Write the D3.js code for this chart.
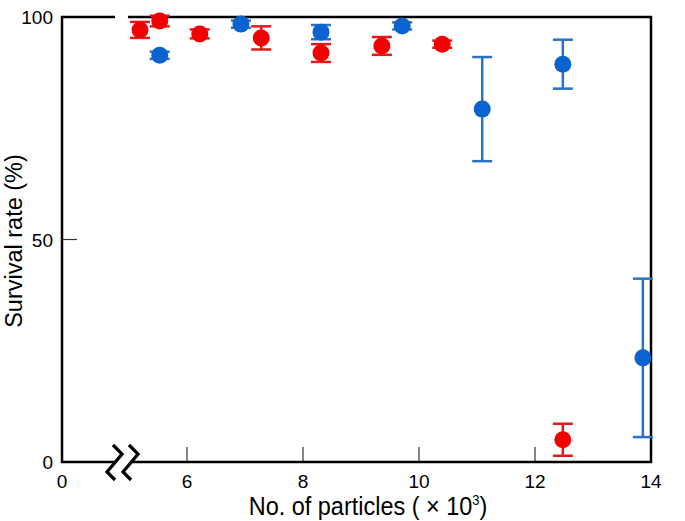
<!DOCTYPE html>
<html>
<head>
<meta charset="utf-8">
<script src="https://cdn.jsdelivr.net/npm/d3@7"></script>
<style>
  body { margin: 0; background: #fff; }
  svg { display: block; }
</style>
</head>
<body>
<svg id="chart" width="685" height="521"></svg>
<script>
//^^^^^^^^^^^^^^^^^^^^^^^^^^^^^^^^^^^^^^^^^^^^^^^^^^^^^^^^^^^^^^^^^^^^^^^^^^^^^^
// Data (x in 10^3 particles, y survival %)
//------------------------------------------------------------------------------
var redX   = [5.19, 5.53, 6.22, 7.28, 8.31, 9.36, 10.40, 12.48]
var redY   = [97.1, 99.1, 96.2, 95.3, 91.9, 93.5, 93.9, 5.0]
var redErr = [1.8, 1.2, 1.0, 2.6, 2.0, 2.0, 0.8, 3.6]

var blueX   = [5.53, 6.93, 8.31, 9.71, 11.09, 12.48, 13.86]
var blueY   = [91.4, 98.4, 96.6, 98.0, 79.3, 89.4, 23.4]
var blueErr = [0.8, 0.8, 1.6, 0.8, 11.7, 5.5, 17.8]

var xTicks = [6, 8, 10, 12, 14]
var yTicks = [0, 50, 100]

var xStart = 3.845   // value shown at the broken origin (labelled "0")
var xBreak = 4.88

var series = [
  {color: "#f20000", bar: "#e31b1b", x: redX, y: redY, e: redErr},
  {color: "#0b63cf", bar: "#2a72c4", x: blueX, y: blueY, e: blueErr}
]

//^^^^^^^^^^^^^^^^^^^^^^^^^^^^^^^^^^^^^^^^^^^^^^^^^^^^^^^^^^^^^^^^^^^^^^^^^^^^^^
// Scales
//------------------------------------------------------------------------------
var svg = d3.select("#chart")
var pLeft = 62, pRight = 651, pTop = 17, pBottom = 462

var x = d3.scaleLinear().domain([xStart, 14]).range([pLeft, pRight])
var y = d3.scaleLinear().domain([0, 100]).range([pBottom, pTop])

var sans = "'Liberation Sans', Arial, sans-serif"

//^^^^^^^^^^^^^^^^^^^^^^^^^^^^^^^^^^^^^^^^^^^^^^^^^^^^^^^^^^^^^^^^^^^^^^^^^^^^^^
// Inner ticks
//------------------------------------------------------------------------------
svg.append("g").selectAll("line.xt")
  .data(xTicks.filter(function(t){ return t < 14 }))
  .enter().append("line")
    .attr("x1", function(t){ return x(t) })
    .attr("x2", function(t){ return x(t) })
    .attr("y1", pBottom)
    .attr("y2", pBottom - 15)
    .attr("stroke", "#333")
    .attr("stroke-width", 1.2)

svg.append("line")
  .attr("x1", pLeft).attr("x2", pLeft + 15)
  .attr("y1", y(50)).attr("y2", y(50))
  .attr("stroke", "#333")
  .attr("stroke-width", 1.2)

//^^^^^^^^^^^^^^^^^^^^^^^^^^^^^^^^^^^^^^^^^^^^^^^^^^^^^^^^^^^^^^^^^^^^^^^^^^^^^^
// Frame with the break on the x side
//------------------------------------------------------------------------------
var bx = x(xBreak)
var frame = svg.append("g")
  .attr("fill", "none")
  .attr("stroke", "#000")
  .attr("stroke-width", 2.5)

frame.append("path")
  .attr("d", "M" + (bx - 7) + "," + pTop + "H" + pLeft + "V" + pBottom + "H" + (bx - 7))
frame.append("path")
  .attr("d", "M" + (bx + 6) + "," + pTop + "H" + pRight + "V" + pBottom + "H" + (bx + 10))

var zig = [[-9, -17], [0, -8], [-15, 10], [-7, 18]]
;[0, 16].forEach(function(off){
  frame.append("path")
    .attr("stroke-width", 3.2)
    .attr("d", d3.line()(zig.map(function(p){ return [bx + off + p[0], pBottom + p[1]] })))
})

//^^^^^^^^^^^^^^^^^^^^^^^^^^^^^^^^^^^^^^^^^^^^^^^^^^^^^^^^^^^^^^^^^^^^^^^^^^^^^^
// Tick labels
//------------------------------------------------------------------------------
svg.append("g").selectAll("text")
  .data([xStart].concat(xTicks))
  .enter().append("text")
    .attr("x", function(t){ return x(t) })
    .attr("y", pBottom + 26)
    .attr("text-anchor", "middle")
    .attr("font-family", sans)
    .attr("font-size", 19)
    .text(function(t){ return t == xStart ? "0" : t })

svg.append("g").selectAll("text")
  .data(yTicks)
  .enter().append("text")
    .attr("x", 53)
    .attr("y", function(t){ return y(t) + 7 })
    .attr("text-anchor", "end")
    .attr("font-family", sans)
    .attr("font-size", 19)
    .text(function(t){ return t })

//^^^^^^^^^^^^^^^^^^^^^^^^^^^^^^^^^^^^^^^^^^^^^^^^^^^^^^^^^^^^^^^^^^^^^^^^^^^^^^
// Axis titles (x title is a condensed face in the original)
//------------------------------------------------------------------------------
var xt = svg.append("text")
  .attr("transform", "translate(368,515) scale(0.92,1)")
  .attr("text-anchor", "middle")
  .attr("font-family", sans)
  .attr("font-size", 25.5)
xt.append("tspan").text("No. of particles ( \u00d7 10")
xt.append("tspan").attr("font-size", 14).attr("dy", -10).text("3")
xt.append("tspan").attr("dy", 10).text(")")

svg.append("text")
  .attr("transform", "translate(22,241) rotate(-90)")
  .attr("text-anchor", "middle")
  .attr("font-family", sans)
  .attr("font-size", 23.5)
  .text("Survival rate (%)")

//^^^^^^^^^^^^^^^^^^^^^^^^^^^^^^^^^^^^^^^^^^^^^^^^^^^^^^^^^^^^^^^^^^^^^^^^^^^^^^
// Error bars and points
//------------------------------------------------------------------------------
series.forEach(function(s){
  var pts = s.x.map(function(v, i){ return {x: v, y: s.y[i], e: s.e[i]} })
  var g = svg.append("g")

  var bars = g.selectAll("g.err")
    .data(pts)
    .enter().append("g")
      .attr("stroke", s.bar)
      .attr("stroke-width", 2.5)

  bars.append("line")
    .attr("x1", function(d){ return x(d.x) })
    .attr("x2", function(d){ return x(d.x) })
    .attr("y1", function(d){ return y(d.y + d.e) })
    .attr("y2", function(d){ return y(d.y - d.e) })

  ;[1, -1].forEach(function(sign){
    bars.append("line")
      .attr("x1", function(d){ return x(d.x) - 10 })
      .attr("x2", function(d){ return x(d.x) + 10 })
      .attr("y1", function(d){ return y(d.y + sign * d.e) })
      .attr("y2", function(d){ return y(d.y + sign * d.e) })
  })

  g.selectAll("circle")
    .data(pts)
    .enter().append("circle")
      .attr("cx", function(d){ return x(d.x) })
      .attr("cy", function(d){ return y(d.y) })
      .attr("r", 8.5)
      .attr("fill", s.color)
})
</script>
</body>
</html>
